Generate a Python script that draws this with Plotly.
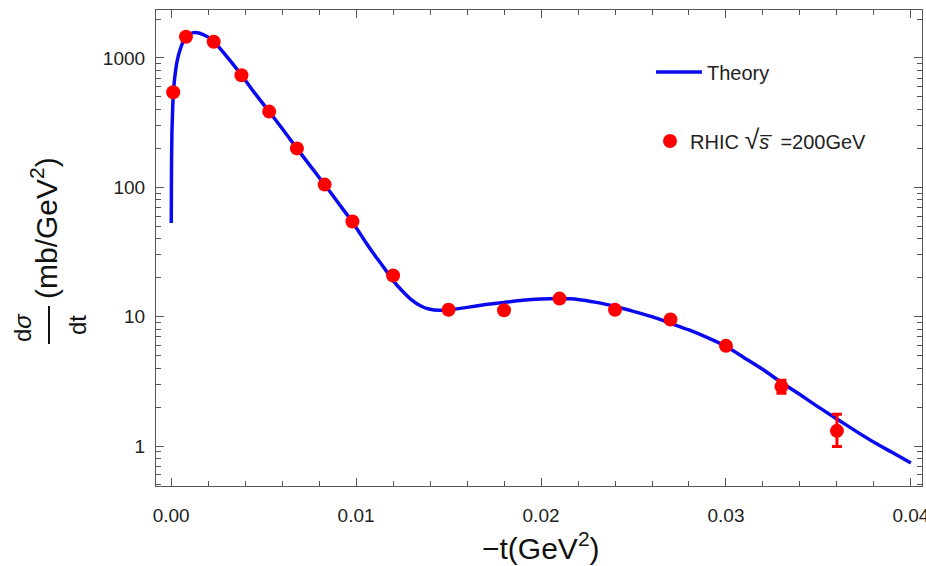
import plotly.graph_objects as go

# ---- data ----
theory_t = [0.000005, 0.00002, 0.00004, 0.00008, 0.00012, 0.0002, 0.00033, 0.0005, 0.0007,
            0.0009, 0.0012, 0.0015, 0.002, 0.0023, 0.003, 0.0038, 0.0045, 0.0053, 0.006,
            0.0068, 0.0075, 0.0083, 0.009, 0.0098, 0.0105, 0.011, 0.0115, 0.012, 0.0125,
            0.013, 0.0135, 0.014, 0.0145, 0.015, 0.016, 0.017, 0.018, 0.019, 0.020, 0.021,
            0.022, 0.023, 0.024, 0.025, 0.026, 0.027, 0.028, 0.029, 0.030, 0.031, 0.032,
            0.033, 0.034, 0.035, 0.036, 0.037, 0.038, 0.039, 0.040]
theory_v = [53, 150, 260, 400, 540, 720, 960, 1180, 1380,
            1500, 1570, 1560, 1450, 1340, 1030, 738, 540, 385, 285,
            200, 148, 105, 77, 54, 38, 30, 24, 19, 15.8,
            13.5, 12.1, 11.4, 11.2, 11.3, 11.8, 12.4, 12.9, 13.4, 13.7, 13.8,
            13.6, 12.9, 12.0, 11.0, 10.0, 8.9, 7.9, 6.9, 5.9, 4.8, 3.9,
            3.1, 2.5, 2.0, 1.62, 1.31, 1.07, 0.89, 0.74]

data_t = [0.00011, 0.0008, 0.0023, 0.0038, 0.0053, 0.0068, 0.0083, 0.0098, 0.0120,
          0.0150, 0.0180, 0.0210, 0.0240, 0.0270, 0.0300, 0.0330, 0.0360]
data_v = [543, 1460, 1335, 735, 385, 200, 105, 54.5, 20.8,
          11.3, 11.2, 13.8, 11.3, 9.5, 5.95, 2.88, 1.31]
err_plus = [15, 40, 35, 20, 10, 5, 3, 1.5, 0.6, 0.3, 0.3, 0.4, 0.3, 0.3, 0.2, 0.35, 0.45]
err_minus = [15, 40, 35, 20, 10, 5, 3, 1.5, 0.6, 0.3, 0.3, 0.4, 0.3, 0.3, 0.2, 0.32, 0.32]

x_tickvals = [0.0, 0.01, 0.02, 0.03, 0.04]
x_ticktext = ["0.00", "0.01", "0.02", "0.03", "0.04"]
y_tickvals = [1, 10, 100, 1000]
y_ticktext = ["1", "10", "100", "1000"]
y_minor = [0.5, 0.6, 0.7, 0.8, 0.9, 2, 3, 4, 5, 6, 7, 8, 9, 20, 30, 40, 50, 60, 70, 80, 90,
           200, 300, 400, 500, 600, 700, 800, 900, 2000]

# ---- layout geometry ----
W, H = 926, 566
L, R, T, B = 156, 4, 10, 80
PW, PH = W - L - R, H - T - B


def px(x):
    return (x - L) / PW


def py(y):
    return 1 - (y - T) / PH


FONT = "Liberation Sans, Arial, sans-serif"
FRAME = "#555555"

fig = go.Figure()
fig.add_trace(go.Scatter(
    x=theory_t, y=theory_v, mode="lines", name="Theory", showlegend=True,
    line=dict(color="#0A0AF0", width=3.5, shape="spline", smoothing=0.6),
    legend="legend"))
fig.add_trace(go.Scatter(
    x=data_t, y=data_v, mode="markers", showlegend=True,
    name="RHIC <span style='font-size:27px'>√</span><i>s\u0305</i>  =200GeV",
    marker=dict(color="#FF0000", size=14),
    error_y=dict(type="data", symmetric=False, array=err_plus, arrayminus=err_minus,
                 color="#FF0000", thickness=3, width=5),
    legend="legend2"))

axis_common = dict(
    showline=True, linecolor=FRAME, linewidth=1.2, mirror="allticks",
    ticks="inside", tickcolor=FRAME, showgrid=False, zeroline=False,
    ticklabeloverflow="allow",
    tickfont=dict(family=FONT, size=19, color="#222222"),
)

fig.update_xaxes(
    **axis_common, range=[-0.00082, 0.0406],
    tickmode="array", tickvals=x_tickvals, ticktext=x_ticktext, ticklen=8, tickwidth=1,
    ticklabelstandoff=12,
    minor=dict(ticks="inside", tickmode="linear", tick0=0, dtick=0.002, ticklen=5,
               tickcolor=FRAME, showgrid=False),
)
fig.update_yaxes(
    **axis_common, type="log", range=[-0.309, 3.371],
    tickmode="array", tickvals=y_tickvals, ticktext=y_ticktext, ticklen=8, tickwidth=1,
    ticklabelstandoff=6,
    minor=dict(ticks="inside", tickmode="array", tickvals=y_minor, ticklen=5,
               tickcolor=FRAME, showgrid=False),
)

ann = [
    dict(text="−t(GeV<sup>2</sup>)", x=px(541), y=py(546), font=dict(size=30)),
    dict(text="d<i>σ</i>", x=px(22), y=py(328), font=dict(size=24), textangle=-90),
    dict(text="dt", x=px(77), y=py(325), font=dict(size=24), textangle=-90),
    dict(text="(mb/GeV<sup>2</sup>)", x=px(44), y=py(228), font=dict(size=30), textangle=-90),
]
for a in ann:
    a.update(xref="paper", yref="paper", showarrow=False, xanchor="center", yanchor="middle")
    a["font"].update(family=FONT, color="#111111")

fig.update_layout(
    width=W, height=H, margin=dict(l=L, r=R, t=T, b=B, autoexpand=False),
    paper_bgcolor="white", plot_bgcolor="white",
    showlegend=True,
    annotations=ann,
    shapes=[dict(type="line", xref="paper", yref="paper", x0=px(49), x1=px(49),
                 y0=py(306), y1=py(344), line=dict(color="#111111", width=2))],
    legend=dict(x=px(651), y=py(72), xanchor="left", yanchor="middle", itemwidth=46,
                bgcolor="rgba(0,0,0,0)", font=dict(family=FONT, size=20, color="#222222")),
    legend2=dict(x=px(650), y=py(141), xanchor="left", yanchor="middle",
                 bgcolor="rgba(0,0,0,0)", font=dict(family=FONT, size=20, color="#222222")),
)

fig.write_html("out.html", config={"displayModeBar": False},
               post_script="document.body.style.margin='0';document.body.style.overflow='hidden';")
